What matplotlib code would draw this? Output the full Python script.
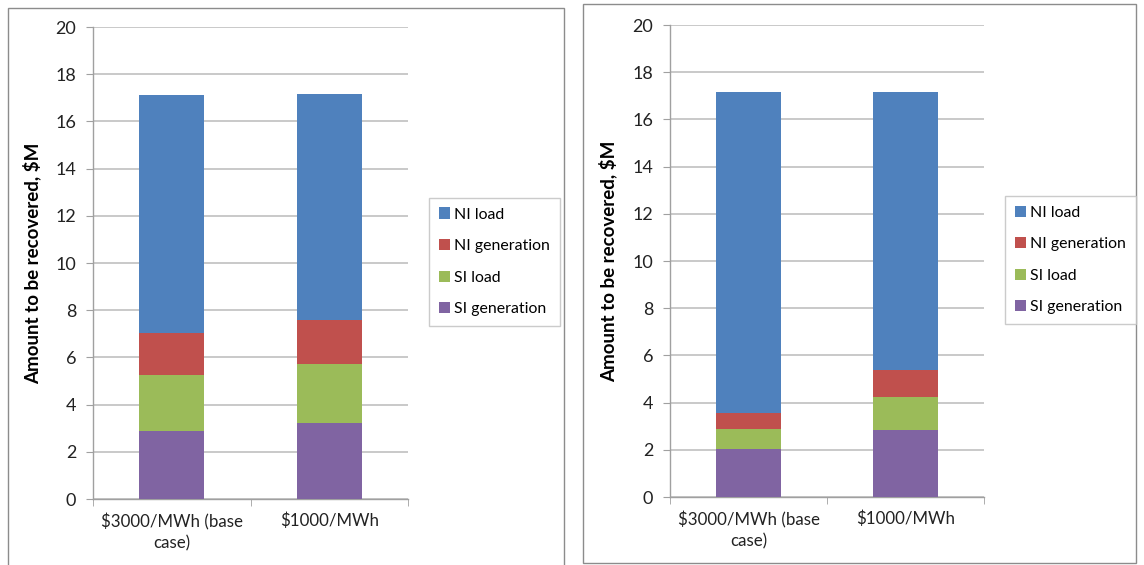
import numpy as np
import matplotlib
matplotlib.use("Agg")
import matplotlib.pyplot as plt
from matplotlib.patches import Rectangle

plt.rcParams['font.family'] = ['Lato', 'DejaVu Sans']

categories = ['$3000/MWh (base\ncase)', '$1000/MWh']
series_names = ['SI generation', 'SI load', 'NI generation', 'NI load']
colors = ['#8064A2', '#9BBB59', '#C0504D', '#4F81BD']

# amounts to be recovered, $M, per price cap (left chart)
left_si_gen = [2.90, 3.21]
left_si_load = [2.34, 2.49]
left_ni_gen = [1.79, 1.87]
left_ni_load = [10.10, 9.60]

# right chart
right_si_gen = [2.03, 2.85]
right_si_load = [0.87, 1.37]
right_ni_gen = [0.65, 1.18]
right_ni_load = [13.60, 11.75]

W, H = 1144, 565
fig = plt.figure(figsize=(W / 100, H / 100), dpi=100)


def px(x0, y0, w, h):
    return [x0 / W, 1 - (y0 + h) / H, w / W, h / H]


def draw_panel(ax, stacks, label_x):
    x = np.arange(len(categories)) + 0.5
    bottom = np.zeros(len(categories))
    bars = []
    for vals, name, c in zip(stacks, series_names, colors):
        b = ax.bar(x, vals, 0.41, bottom=bottom, color=c, label=name, zorder=3)
        bars.append(b)
        bottom += np.array(vals)
    ax.set_xlim(0, 2)
    ax.set_ylim(0, 20)
    ax.set_yticks(range(0, 21, 2))
    ax.yaxis.grid(True, color='#C0C0C0', linewidth=1.2, zorder=0)
    ax.set_xticks(x)
    ax.set_xticklabels(categories, fontsize=12.2, color='#222222',
                       linespacing=1.4)
    ax.set_xticks([0, 1, 2], minor=True)
    ax.tick_params(axis='x', which='major', length=0, pad=10)
    ax.tick_params(axis='x', which='minor', length=5, color='#A0A0A0')
    ax.tick_params(axis='y', length=5, color='#A0A0A0', labelsize=13,
                   labelcolor='#222222', pad=7)
    for s in ['top', 'right']:
        ax.spines[s].set_visible(False)
    for s in ['left', 'bottom']:
        ax.spines[s].set_color('#A0A0A0')
        ax.spines[s].set_linewidth(1.0)
    ax.set_ylabel('Amount to be recovered, $M', fontsize=13.5, fontweight='bold')
    ax.yaxis.set_label_coords(label_x, 0.5)
    return bars


# panel frames
fig.patches.append(Rectangle((8 / W, 1 - 575 / H), 556 / W, 567 / H,
                             transform=fig.transFigure, fill=False,
                             edgecolor='#8C8C8C', linewidth=1.0))
fig.patches.append(Rectangle((583 / W, 1 - 563 / H), 553 / W, 559 / H,
                             transform=fig.transFigure, fill=False,
                             edgecolor='#8C8C8C', linewidth=1.0))

ax1 = fig.add_axes(px(93, 27, 315, 472))
bars1 = draw_panel(ax1, [left_si_gen, left_si_load, left_ni_gen, left_ni_load],
                   -0.165)
ax2 = fig.add_axes(px(670, 25, 314, 472))
bars2 = draw_panel(ax2, [right_si_gen, right_si_load, right_ni_gen, right_ni_load],
                   -0.169)

for ax, bars, (lx, ly) in [(ax1, bars1, (429, 198)), (ax2, bars2, (1005, 196))]:
    leg = fig.legend(bars[::-1], series_names[::-1], loc='upper left',
                     bbox_to_anchor=(lx / W, 1 - ly / H), fontsize=11.4,
                     frameon=True, fancybox=False, edgecolor='#BFBFBF',
                     handlelength=0.7, handleheight=0.7, handletextpad=0.3,
                     labelspacing=1.1, borderpad=0.6, borderaxespad=0)
    leg.get_frame().set_linewidth(1.0)

fig.savefig('out.png', dpi=100)
